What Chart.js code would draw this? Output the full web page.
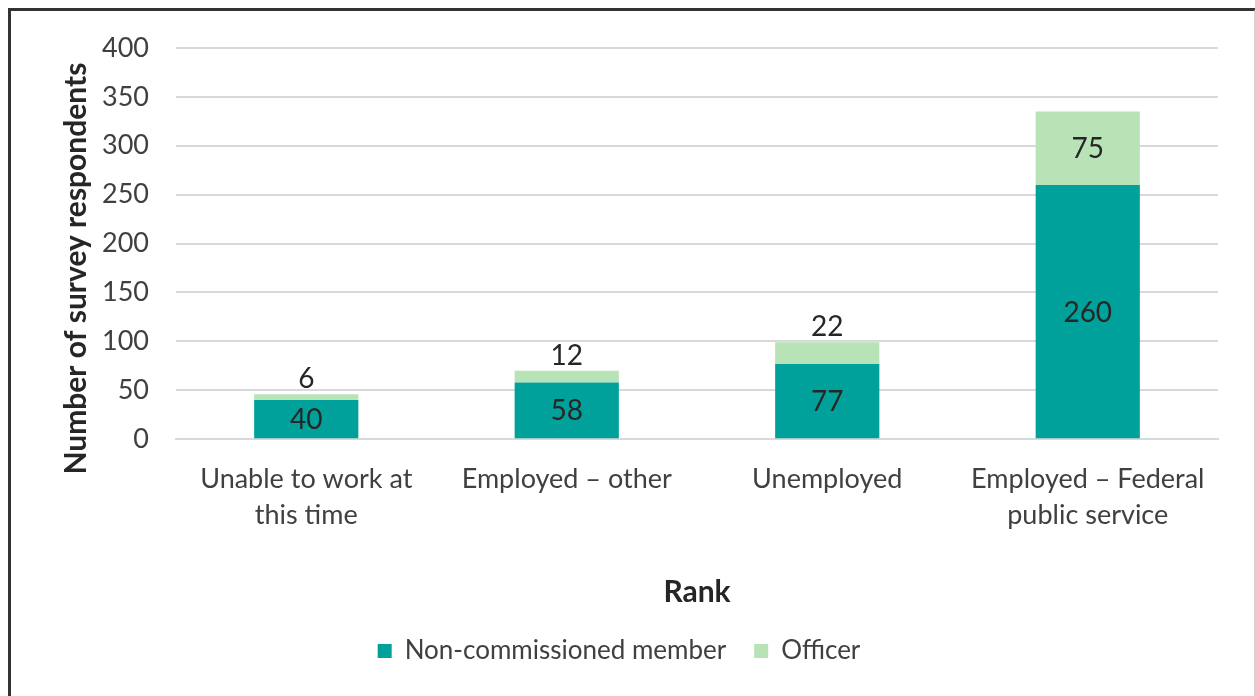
<!DOCTYPE html>
<html>
<head>
<meta charset="utf-8">
<script src="https://cdn.jsdelivr.net/npm/chart.js@4"></script>
<style>
  html, body { margin: 0; padding: 0; background: #fff; overflow: hidden; }
  #frame {
    position: absolute; left: 8px; top: 8px; width: 1243px; height: 720px;
    border-left: 3px solid #333; border-top: 3px solid #333; border-right: 2px solid #d0d0d0;
  }
  #wrap { position: absolute; left: 0; top: 0; width: 1255px; height: 696px; }
</style>
</head>
<body>
<div id="frame"></div>
<div id="wrap"><canvas id="myChart" width="1255" height="696"></canvas></div>
<script>
const categories = [["Unable to work at", "this time"], "Employed \u2013 other", "Unemployed", ["Employed \u2013 Federal", "public service"]];
const ncmValues = [40, 58, 77, 260];
const officerValues = [6, 12, 22, 75];
const yTicks = [0, 50, 100, 150, 200, 250, 300, 350, 400];
const yTitle = "Number of survey respondents";

const FONT = "Lato, 'Open Sans', sans-serif";

// value labels: centred in each segment, lifted above the bar when the segment is thin
const segmentLabels = {
  id: "segmentLabels",
  afterDatasetsDraw(chart) {
    const ctx = chart.ctx;
    ctx.save();
    ctx.font = "28px " + FONT;
    ctx.fillStyle = "#262626";
    ctx.textAlign = "center";
    ctx.textBaseline = "middle";
    chart.data.datasets.forEach((ds, i) => {
      chart.getDatasetMeta(i).data.forEach((bar, j) => {
        const h = Math.abs(bar.base - bar.y);
        let y = (bar.y + bar.base) / 2;
        if (h < 30) y = bar.y - 16;
        ctx.fillText(String(ds.data[j]), bar.x, y + 1);
      });
    });
    ctx.restore();
  }
};

// rotated y axis title, sitting a little below the middle of the plot
const yAxisTitle = {
  id: "yAxisTitle",
  afterDraw(chart) {
    const ctx = chart.ctx;
    const area = chart.chartArea;
    ctx.save();
    ctx.font = "bold 30px " + FONT;
    ctx.fillStyle = "#262626";
    ctx.textAlign = "center";
    ctx.textBaseline = "middle";
    ctx.translate(76, (area.top + area.bottom) / 2 + 25);
    ctx.rotate(-Math.PI / 2);
    ctx.fillText(yTitle, 0, 0);
    ctx.restore();
  }
};

const ctx = document.getElementById("myChart").getContext("2d");
const myChart = new Chart(ctx, {
  type: "bar",
  data: {
    labels: categories,
    datasets: [
      {
        label: "Non-commissioned member",
        data: ncmValues,
        backgroundColor: "#00A19A",
        categoryPercentage: 0.4,
        barPercentage: 1
      },
      {
        label: "Officer",
        data: officerValues,
        backgroundColor: "#B8E3B6",
        categoryPercentage: 0.4,
        barPercentage: 1
      }
    ]
  },
  options: {
    responsive: false,
    animation: false,
    layout: { padding: { top: 48, right: 37, left: 20, bottom: 22 } },
    plugins: {
      tooltip: { enabled: false },
      legend: {
        position: "bottom",
        labels: {
          font: { family: FONT, size: 26 },
          color: "#404040",
          boxWidth: 14,
          boxHeight: 14,
          padding: 28
        }
      }
    },
    scales: {
      x: {
        stacked: true,
        grid: { display: false },
        border: { display: true, color: "#d9d9d9", width: 2 },
        ticks: {
          font: { family: FONT, size: 27, lineHeight: 1.33 },
          color: "#404040",
          padding: 14,
          maxRotation: 0
        },
        title: {
          display: true,
          text: "Rank",
          font: { family: FONT, size: 30, weight: "bold" },
          color: "#262626",
          padding: { top: 27, bottom: 0 }
        }
      },
      y: {
        stacked: true,
        min: 0,
        max: 400,
        afterBuildTicks(scale) { scale.ticks = yTicks.map(v => ({ value: v })); },
        afterFit(scale) { scale.width = 156; },
        grid: { color: "#d9d9d9", lineWidth: 2, drawTicks: false },
        border: { display: false },
        ticks: {
          font: { family: FONT, size: 27 },
          color: "#404040",
          padding: 27
        }
      }
    }
  },
  plugins: [segmentLabels, yAxisTitle]
});
</script>
</body>
</html>
